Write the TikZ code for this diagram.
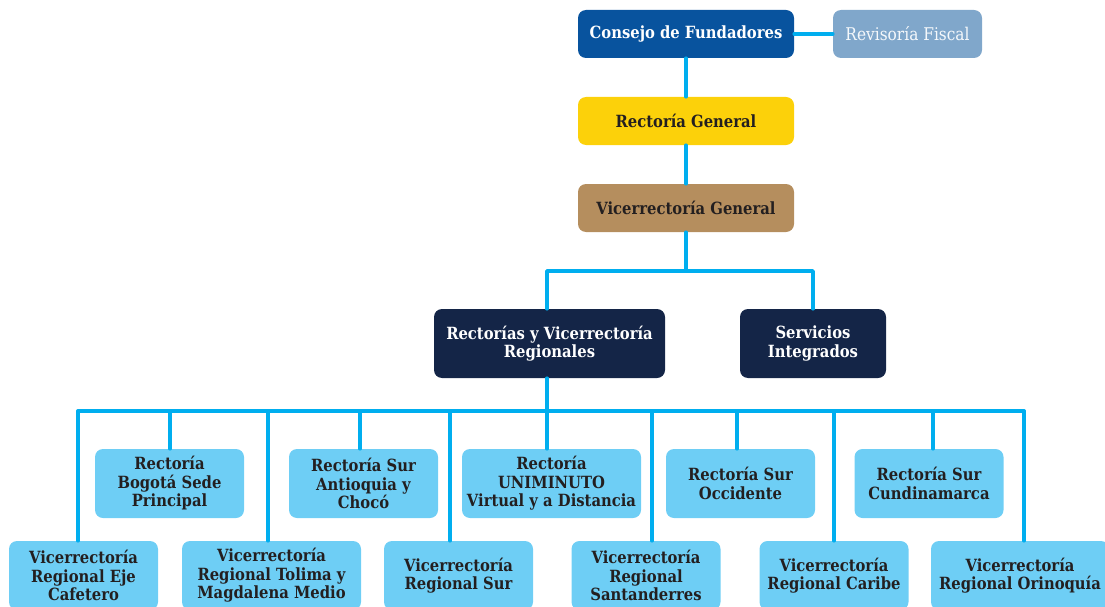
\documentclass[tikz,border=0pt]{standalone}
\usepackage{fontspec}
\setmainfont{DejaVu Serif}[FakeStretch=0.88]
\definecolor{azul}{RGB}{8,83,158}
\definecolor{gris}{RGB}{128,167,203}
\definecolor{amarillo}{RGB}{252,209,10}
\definecolor{cafe}{RGB}{181,142,94}
\definecolor{marino}{RGB}{20,37,71}
\definecolor{celeste}{RGB}{110,206,245}
\definecolor{linea}{RGB}{0,174,239}
\definecolor{oscuro}{RGB}{35,31,32}
\begin{document}
\begin{tikzpicture}[x=1pt, y=-1pt, line join=round, line cap=round,
	caja/.style={rectangle, rounded corners=8pt, align=center, inner sep=0pt, text=oscuro, font=\bfseries\fontsize{16.8}{18.5}\selectfont},
	alta/.style={caja, minimum width=216pt, minimum height=48pt},
	media/.style={caja, fill=marino, text=white, minimum height=69pt},
	baja/.style={caja, fill=celeste, minimum width=149pt, minimum height=69pt},
	enlace/.style={draw=linea, line width=3.5pt}]
	\def\ybusA{271} \def\ybusB{411} % barras horizontales
	\def\yfilaA{483.5} \def\yfilaB{575.5} % filas de rectorias
	\useasboundingbox (0,0) rectangle (1105,607);
	\clip (0,0) rectangle (1105,607);
	% nivel superior
	\node[alta, fill=azul, text=white] (consejo) at (686,34) {Consejo de Fundadores};
	\node[caja, fill=gris, text=white!92!gris, font=\fontsize{17.5}{19}\selectfont, minimum width=149pt, minimum height=48pt] (revisoria) at (907.5,34) {Revisoría Fiscal};
	\node[alta, fill=amarillo] (rectoria) at (686,121) {Rectoría General};
	\node[alta, fill=cafe] (vicerrectoria) at (686,208) {Vicerrectoría General};
	\node[media, minimum width=231pt] (regionales) at (549.5,343.5) {Rectorías y Vicerrectoría\\Regionales};
	\node[media, minimum width=146pt] (servicios) at (813,343.5) {Servicios\\Integrados};
	% rectorias
	\node[baja] (bogota) at (169.5,\yfilaA) {Rectoría\\Bogotá Sede\\Principal};
	\node[baja] (antioquia) at (363.5,\yfilaA) {Rectoría Sur\\Antioquia y\\Chocó};
	\node[baja, minimum width=179pt] (uniminuto) at (551.5,\yfilaA) {Rectoría\\UNIMINUTO\\Virtual y a Distancia};
	\node[baja] (occidente) at (740.5,\yfilaA) {Rectoría Sur\\Occidente};
	\node[baja] (cundinamarca) at (929,\yfilaA) {Rectoría Sur\\Cundinamarca};
	% vicerrectorias regionales
	\node[baja] (ejecafetero) at (83.5,\yfilaB) {Vicerrectoría\\Regional Eje\\Cafetero};
	\node[baja, minimum width=179pt] (tolima) at (271.5,\yfilaB) {Vicerrectoría\\Regional Tolima y\\Magdalena Medio};
	\node[baja] (sur) at (458.5,\yfilaB) {Vicerrectoría\\Regional Sur};
	\node[baja] (santanderes) at (646,\yfilaB) {Vicerrectoría\\Regional\\Santanderres};
	\node[baja] (caribe) at (834,\yfilaB) {Vicerrectoría\\Regional Caribe};
	\node[baja, minimum width=178pt] (orinoquia) at (1020,\yfilaB) {Vicerrectoría\\Regional Orinoquía};
	% conectores
	\draw[enlace] (consejo) -- (revisoria);
	\draw[enlace] (consejo) -- (rectoria);
	\draw[enlace] (rectoria) -- (vicerrectoria);
	\coordinate (busA) at (686,\ybusA);
	\coordinate (regA) at (547,\ybusA);
	\draw[enlace] (vicerrectoria) -- (busA);
	\draw[enlace] (regionales.north -| regA) -- (regA) -- (busA) -| (servicios.north);
	\coordinate (busB) at (547,\ybusB);
	\coordinate (busIzq) at (78,\ybusB);
	\coordinate (busDer) at (1024,\ybusB);
	\draw[enlace] (regionales.south -| busB) -- (busB);
	\draw[enlace] (busIzq) -- (busDer);
	\foreach \n/\x in {bogota/170, antioquia/360, uniminuto/547, occidente/737, cundinamarca/933,
		ejecafetero/78, tolima/268, sur/450, santanderes/652, caribe/834, orinoquia/1024}{
		\coordinate (p) at (\x,\ybusB);
		\draw[enlace] (p) -- (\n.north -| p);
	}
\end{tikzpicture}
\end{document}
